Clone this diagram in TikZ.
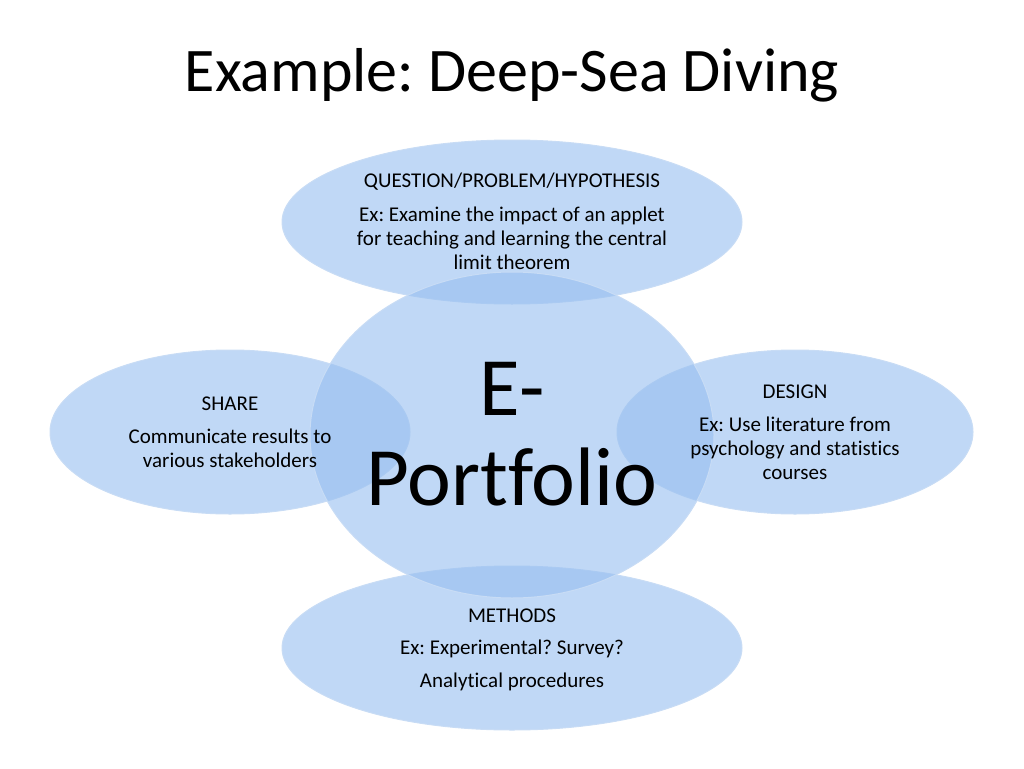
\documentclass[tikz,border=0pt]{standalone}
\usepackage{fontspec}
\setmainfont[Ligatures=NoCommon]{Carlito}
\frenchspacing
\begin{document}
\begin{tikzpicture}[x=1pt,y=-1pt,
  blob/.style={fill={rgb,255:red,150;green,190;blue,240},fill opacity=0.6,draw={rgb,255:red,200;green,220;blue,245},line width=1pt},
  txt/.style={align=center,font=\fontsize{21}{24}\selectfont,text opacity=1}]
\useasboundingbox (0,0) rectangle (1024,768);
\node[font=\fontsize{62}{66}\selectfont] (title) at (512,75) {Example: Deep-Sea Diving};
\path[blob] (512,222) ellipse [x radius=230,y radius=82];
\path[blob] (230,432) ellipse [x radius=180,y radius=82];
\path[blob] (795,432) ellipse [x radius=178,y radius=82];
\path[blob] (512,648) ellipse [x radius=230,y radius=82];
\path[blob] (512,435) ellipse [x radius=202,y radius=163];
\node[txt] (q) at (512,182) {QUESTION/PROBLEM/HYPOTHESIS};
\node[txt] (qt) at (512,238) {Ex: Examine the impact of an applet\\for teaching and learning the central\\limit theorem};
\node[txt] (s) at (230,404) {SHARE};
\node[txt] (st) at (230,448) {Communicate results to\\various stakeholders};
\node[txt] (d) at (795,392) {DESIGN};
\node[txt] (dt) at (795,448) {Ex: Use literature from\\psychology and statistics\\courses};
\node[txt] (m) at (512,616) {METHODS};
\node[txt] (mt) at (512,665) {Ex: Experimental? Survey?\\[9pt]Analytical procedures};
\node[align=center,font=\fontsize{83}{90}\selectfont] (e) at (512,434) {E-\\Portfolio};
\end{tikzpicture}
\end{document}
